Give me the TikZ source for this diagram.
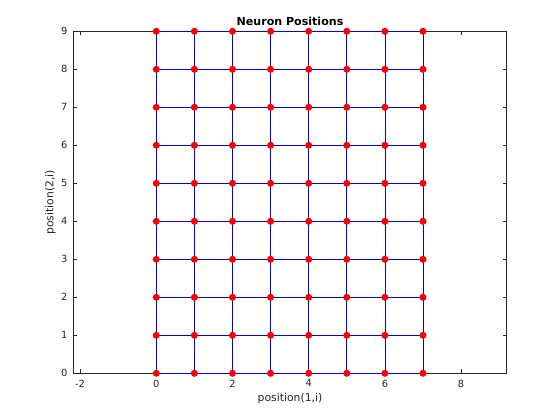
\documentclass[tikz,border=0pt]{standalone}
\usepackage{fontspec}
\setmainfont{DejaVu Sans}
\definecolor{axgray}{gray}{0.15}
\definecolor{mblue}{rgb}{0,0,1}
\begin{document}
\begin{tikzpicture}[x=0.75pt,y=0.75pt,
  axisline/.style={draw=axgray, line width=0.5pt},
  tickmark/.style={draw=axgray, line width=0.5pt},
  ticklbl/.style={text=axgray, font=\fontsize{7.4}{9}\selectfont, inner sep=0pt},
  axlbl/.style={text=axgray, font=\fontsize{8.1}{10}\selectfont, inner sep=0pt},
  titlelbl/.style={text=black, font=\fontsize{8.3}{10}\bfseries\selectfont, inner sep=0pt},
  neuron/.style={circle, fill=red, inner sep=0pt, minimum size=5.3pt},
  link/.style={draw=mblue, line width=0.6pt}]
\useasboundingbox (0,0) rectangle (560,420);
\fill[white] (0,0) rectangle (560,420);
\begin{scope}[shift={(156.3,46.7)}, x=28.575pt, y=28.5pt]
  % axes box
  \coordinate (axll) at (-2.178,0);
  \coordinate (axur) at (9.2,9);
  \draw[axisline] (axll) rectangle (axur);
  % x ticks
  \foreach \t in {-2,0,2,4,6,8} {
    \draw[tickmark] (\t,0) -- ++(0pt,3pt);
    \draw[tickmark] (\t,9) -- ++(0pt,-3pt);
    \node[ticklbl, anchor=north] (xt\t) at ([yshift=-4.6pt]\t,0) {\t};
  }
  % y ticks
  \foreach \t in {0,...,9} {
    \draw[tickmark] (-2.178,\t) -- ++(3pt,0pt);
    \draw[tickmark] (9.2,\t) -- ++(-3pt,0pt);
    \node[ticklbl, anchor=east] (yt\t) at ([xshift=-4.3pt]-2.178,\t) {\t};
  }
  % neuron coordinates
  \foreach \i in {0,...,7} {
    \foreach \j in {0,...,9} {
      \coordinate (p-\i-\j) at (\i,\j);
    }
  }
  % links
  \foreach \i in {0,...,7} {
    \foreach \j [evaluate=\j as \jn using int(\j+1)] in {0,...,8} {
      \draw[link] (p-\i-\j) -- (p-\i-\jn);
    }
  }
  \foreach \j in {0,...,9} {
    \foreach \i [evaluate=\i as \in using int(\i+1)] in {0,...,6} {
      \draw[link] (p-\i-\j) -- (p-\in-\j);
    }
  }
  % neurons
  \foreach \i in {0,...,7} {
    \foreach \j in {0,...,9} {
      \node[neuron] (n-\i-\j) at (p-\i-\j) {};
    }
  }
\end{scope}
\node[titlelbl] (title) at (290,398.6) {Neuron Positions};
\node[axlbl] (xlab) at (290,21.5) {position(1,i)};
\node[axlbl, rotate=90] (ylab) at (50.5,217.5) {position(2,i)};
\end{tikzpicture}
\end{document}
